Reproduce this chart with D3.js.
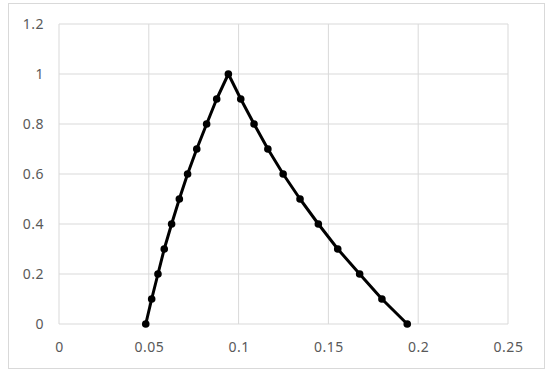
<!DOCTYPE html>
<html>
<head>
<meta charset="utf-8">
<script src="https://cdn.jsdelivr.net/npm/d3@7"></script>
<style>
  body { margin: 0; background: #fff; }
  .tick text { font-family: "Noto Sans", sans-serif; font-size: 14px; letter-spacing: 0.5px; fill: #595959; }
</style>
</head>
<body>
<div class="svg-container"></div>
<script>
// x values, y values are the steps 0..1..0
const xValues = [0.0483, 0.0516, 0.0551, 0.0586, 0.0627, 0.0670, 0.0716, 0.0767, 0.0822, 0.0878, 0.0943,
  0.1012, 0.1086, 0.1163, 0.1248, 0.1342, 0.1444, 0.1552, 0.1674, 0.1798, 0.1939];
const yValues = [0, 0.1, 0.2, 0.3, 0.4, 0.5, 0.6, 0.7, 0.8, 0.9, 1,
  0.9, 0.8, 0.7, 0.6, 0.5, 0.4, 0.3, 0.2, 0.1, 0];
const xTicks = [0, 0.05, 0.1, 0.15, 0.2, 0.25];
const yTicks = [0, 0.2, 0.4, 0.6, 0.8, 1, 1.2];

const data = xValues.map((x, i) => ({ x: x, y: yValues[i] }));

const width = 550;
const height = 374;
const margin = { top: 24, right: 42, bottom: 50, left: 59 };

const svg = d3.select('.svg-container')
  .append('svg')
  .attr('width', width)
  .attr('height', height)

// chart area border
svg.append('rect')
  .attr('x', 8.5)
  .attr('y', 3.5)
  .attr('width', 536)
  .attr('height', 365)
  .attr('fill', 'none')
  .attr('stroke', '#d9d9d9')

const xScale = d3.scaleLinear()
  .domain([0, 0.25])
  .range([margin.left, width - margin.right])

const yScale = d3.scaleLinear()
  .domain([0, 1.2])
  .range([height - margin.bottom, margin.top])

// gridlines
svg.append('g')
  .selectAll('line')
  .data(xTicks)
  .join('line')
  .attr('x1', (d) => xScale(d))
  .attr('x2', (d) => xScale(d))
  .attr('y1', yScale(0))
  .attr('y2', yScale(1.2))
  .attr('stroke', '#d9d9d9')

svg.append('g')
  .selectAll('line')
  .data(yTicks)
  .join('line')
  .attr('x1', xScale(0))
  .attr('x2', xScale(0.25))
  .attr('y1', (d) => yScale(d))
  .attr('y2', (d) => yScale(d))
  .attr('stroke', '#d9d9d9')

// axes (labels only)
const xAxis = d3.axisBottom(xScale)
  .tickValues(xTicks)
  .tickFormat(d3.format('~g'))
  .tickSize(0)
  .tickPadding(18)

const yAxis = d3.axisLeft(yScale)
  .tickValues(yTicks)
  .tickFormat(d3.format('~g'))
  .tickSize(0)
  .tickPadding(15)

svg.append('g')
  .attr('id', 'x-axis')
  .attr('transform', `translate(0, ${yScale(0)})`)
  .call(xAxis)
  .call((g) => g.select('.domain').remove())

svg.append('g')
  .attr('id', 'y-axis')
  .attr('transform', `translate(${xScale(0)}, 0)`)
  .call(yAxis)
  .call((g) => g.select('.domain').remove())

// series line and markers
const line = d3.line()
  .x((d) => xScale(d.x))
  .y((d) => yScale(d.y))

svg.append('path')
  .datum(data)
  .attr('d', line)
  .attr('fill', 'none')
  .attr('stroke', '#000')
  .attr('stroke-width', 3)
  .attr('stroke-linejoin', 'round')

svg.append('g')
  .selectAll('circle')
  .data(data)
  .join('circle')
  .attr('cx', (d) => xScale(d.x))
  .attr('cy', (d) => yScale(d.y))
  .attr('r', 3.8)
  .attr('fill', '#000')
</script>
</body>
</html>
